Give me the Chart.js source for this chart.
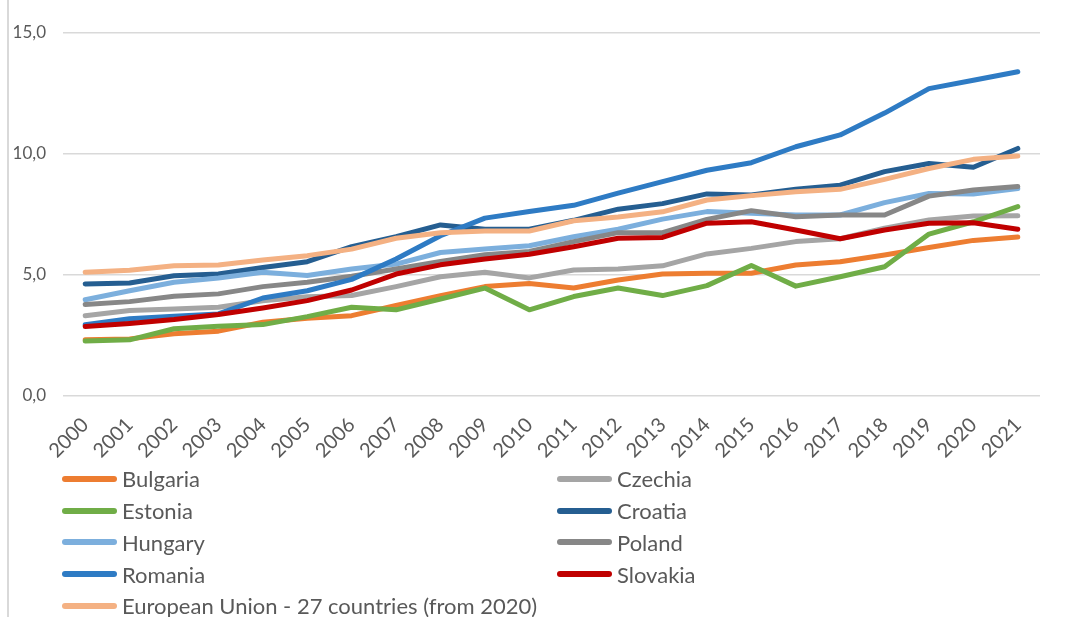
<!DOCTYPE html>
<html>
<head>
<meta charset="utf-8">
<script src="https://cdn.jsdelivr.net/npm/chart.js@4"></script>
<style>
  body { margin: 0; background: #fff; }
  #wrap { position: relative; width: 1073px; height: 617px; overflow: hidden; }
  #frame { position: absolute; left: 7px; top: 0; width: 2px; height: 617px; background: #d9d9d9; }
  #chartBox { position: absolute; left: 0; top: 0; width: 1073px; height: 470px; }
  #legend { position: absolute; left: 62px; top: 463px; display: grid;
            grid-template-columns: 495px 300px; row-gap: 0; font-family: Lato, sans-serif;
            font-size: 22px; color: #595959; }
  .item { display: flex; align-items: center; height: 31.75px; white-space: nowrap; }
  .swatch { width: 55px; height: 6px; border-radius: 3px; margin-right: 5px; flex: none; }
</style>
</head>
<body>
<div id="wrap">
  <div id="frame"></div>
  <div id="chartBox"><canvas id="linechart"></canvas></div>
  <div id="legend"></div>
</div>
<script>
// Years on the category axis
let years = ['2000', '2001', '2002', '2003', '2004', '2005', '2006', '2007', '2008', '2009', '2010',
             '2011', '2012', '2013', '2014', '2015', '2016', '2017', '2018', '2019', '2020', '2021'];

// Values
let bulgaria = [2.32, 2.36, 2.57, 2.68, 3.05, 3.21, 3.32, 3.74, 4.15, 4.52, 4.65, 4.46, 4.79, 5.04, 5.07, 5.07, 5.41, 5.55, 5.83, 6.14, 6.43, 6.57];
let czechia = [3.32, 3.53, 3.6, 3.67, 3.94, 4.1, 4.15, 4.52, 4.93, 5.11, 4.88, 5.21, 5.25, 5.38, 5.87, 6.1, 6.38, 6.5, 6.93, 7.27, 7.44, 7.45];
let estonia = [2.27, 2.32, 2.78, 2.88, 2.95, 3.28, 3.67, 3.56, 4.01, 4.46, 3.56, 4.11, 4.46, 4.15, 4.56, 5.39, 4.54, 4.93, 5.34, 6.69, 7.2, 7.83];
let croatia = [4.63, 4.67, 4.97, 5.04, 5.31, 5.55, 6.17, 6.58, 7.07, 6.89, 6.89, 7.26, 7.72, 7.95, 8.35, 8.31, 8.54, 8.71, 9.27, 9.61, 9.45, 10.23];
let hungary = [3.98, 4.35, 4.7, 4.88, 5.11, 4.98, 5.25, 5.45, 5.93, 6.07, 6.21, 6.58, 6.89, 7.31, 7.62, 7.55, 7.48, 7.48, 7.99, 8.37, 8.35, 8.57];
let poland = [3.78, 3.9, 4.12, 4.22, 4.52, 4.7, 4.95, 5.25, 5.56, 5.84, 5.97, 6.38, 6.75, 6.75, 7.3, 7.66, 7.41, 7.48, 7.48, 8.26, 8.51, 8.66];
let romania = [2.94, 3.19, 3.3, 3.39, 4.05, 4.35, 4.82, 5.66, 6.62, 7.35, 7.62, 7.88, 8.38, 8.86, 9.33, 9.64, 10.3, 10.79, 11.69, 12.7, 13.05, 13.4];
let slovakia = [2.87, 3.0, 3.16, 3.37, 3.64, 3.94, 4.38, 5.04, 5.42, 5.66, 5.86, 6.17, 6.52, 6.55, 7.14, 7.2, 6.86, 6.5, 6.86, 7.14, 7.16, 6.89];
let eu27 = [5.11, 5.2, 5.38, 5.41, 5.62, 5.8, 6.07, 6.52, 6.75, 6.82, 6.82, 7.24, 7.4, 7.61, 8.1, 8.28, 8.44, 8.54, 8.95, 9.4, 9.78, 9.92];

let seriesNames = ['Bulgaria', 'Czechia', 'Estonia', 'Croatia', 'Hungary', 'Poland', 'Romania', 'Slovakia',
                   'European Union - 27 countries (from 2020)'];
let seriesValues = [bulgaria, czechia, estonia, croatia, hungary, poland, romania, slovakia, eu27];
let seriesColors = ['#ED7D31', '#A5A5A5', '#70AD47', '#255E91', '#7CAFDD', '#878787', '#2E7BC4', '#C00000', '#F4B183'];

// Y axis ticks
let yMin = 0;
let yMax = 15;
let yStep = 5;

let datasets = seriesNames.map(function (name, i) {
    return {
        label: name,
        data: seriesValues[i],
        borderColor: seriesColors[i],
        backgroundColor: seriesColors[i],
        borderWidth: 5,
        borderCapStyle: 'round',
        borderJoinStyle: 'round',
        pointRadius: 0,
        tension: 0,
        fill: false,
        // later series sit on top, like the original
        order: seriesNames.length - i
    };
});

let ctx = document.getElementById('linechart').getContext('2d');
let linechart = new Chart(ctx, {
    type: 'line',
    data: { labels: years, datasets: datasets },
    options: {
        responsive: true,
        maintainAspectRatio: false,
        animation: false,
        layout: { padding: { left: 8, right: 33, top: 33, bottom: 0 } },
        plugins: {
            legend: { display: false },
            tooltip: { enabled: false }
        },
        scales: {
            x: {
                offset: true,
                grid: { display: false, drawTicks: false },
                border: { display: false },
                ticks: {
                    minRotation: 45,
                    maxRotation: 45,
                    padding: 17,
                    color: '#595959',
                    font: { family: 'Lato', size: 20 }
                },
                afterFit: function (scale) { scale.height = 74; }
            },
            y: {
                min: yMin,
                max: yMax,
                grid: { color: '#d9d9d9', lineWidth: 1.5, drawTicks: false },
                border: { display: false },
                ticks: {
                    stepSize: yStep,
                    padding: 17,
                    color: '#595959',
                    font: { family: 'Lato', size: 17 },
                    callback: function (v) { return v.toFixed(1).replace('.', ','); }
                },
                afterFit: function (scale) { scale.width = 55; }
            }
        }
    }
});

// Two-column legend, filled row by row
let legend = document.getElementById('legend');
linechart.data.datasets.forEach(function (ds) {
    let item = document.createElement('div');
    item.className = 'item';
    let sw = document.createElement('span');
    sw.className = 'swatch';
    sw.style.background = ds.borderColor;
    let txt = document.createElement('span');
    txt.textContent = ds.label;
    item.appendChild(sw);
    item.appendChild(txt);
    legend.appendChild(item);
});
</script>
</body>
</html>
